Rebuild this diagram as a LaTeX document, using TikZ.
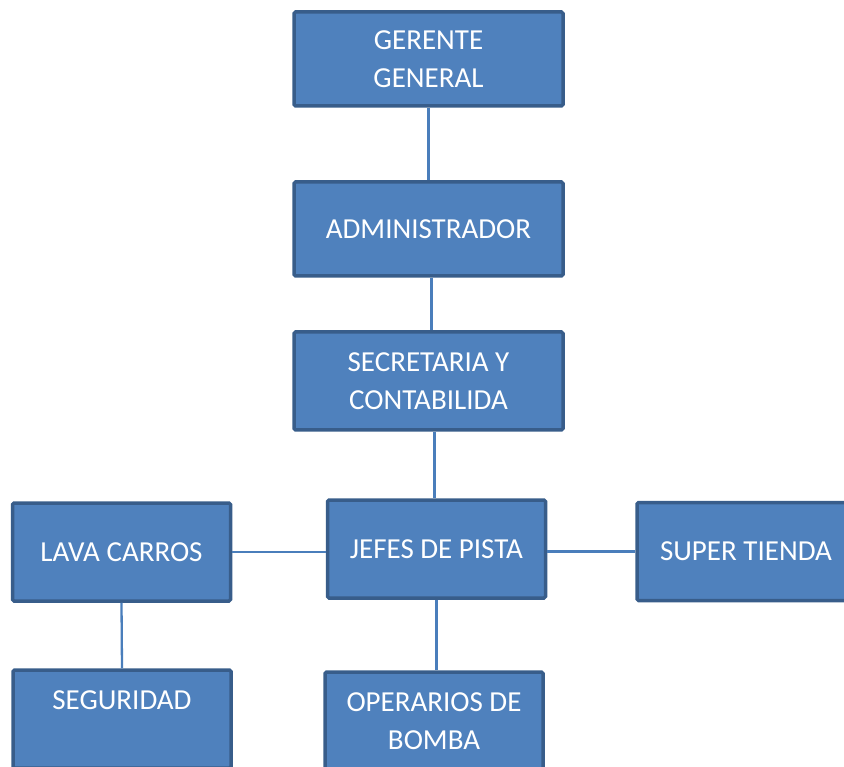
\documentclass[tikz,border=0pt]{standalone}
\usepackage{fontspec}
\setmainfont{Carlito}
\definecolor{boxfill}{HTML}{4F81BD}
\definecolor{boxline}{HTML}{385D8A}
\definecolor{linkcol}{HTML}{4A7EBB}

\begin{document}
\begin{tikzpicture}[x=1pt, y=1pt,
	caja/.style={rectangle, draw=boxline, fill=boxfill, line width=3.5pt, rounded corners=1.5pt,
		text=white, align=center, font=\fontsize{29}{38}\selectfont, inner sep=0pt},
	ancha/.style={caja, minimum width=269, minimum height=94},
	media/.style={caja, minimum width=218, minimum height=98},
	enlace/.style={linkcol, line width=2.3pt}]
\useasboundingbox (0,0) rectangle (844,-767);
\clip (0,0) rectangle (844,-767);

\node[ancha] (gerente) at (428.5,-59) {GERENTE\\GENERAL};
\node[ancha] (admin) at (428.5,-229) {ADMINISTRADOR};
\node[ancha, minimum height=98] (secre) at (428.5,-381) {SECRETARIA Y\\CONTABILIDA};

\node[media] (jefes) at (436.5,-549) {JEFES DE PISTA};
\node[media] (lava) at (121.5,-552) {LAVA CARROS};
\node[media] (tienda) at (746,-551.5) {SUPER TIENDA};

\node[media] (seguridad) at (122,-719) {SEGURIDAD\\\mbox{}};
\node[media] (operarios) at (434,-721) {OPERARIOS DE\\BOMBA};

% lineas del organigrama
\draw[enlace] (gerente.south) -- (admin.north);
\draw[enlace] ([xshift=3]admin.south) -- ([xshift=3]admin.south |- secre.north);
\draw[enlace] ([xshift=6]secre.south) -- ([xshift=6]secre.south |- jefes.north);
\draw[enlace] (lava.east) -- (jefes.west |- lava.east);
\draw[enlace] (jefes.east |- tienda.west) -- (tienda.west);
\draw[enlace] (lava.south) -- (seguridad.north);
\draw[enlace] (jefes.south) -- (jefes.south |- operarios.north);

\end{tikzpicture}
\end{document}
